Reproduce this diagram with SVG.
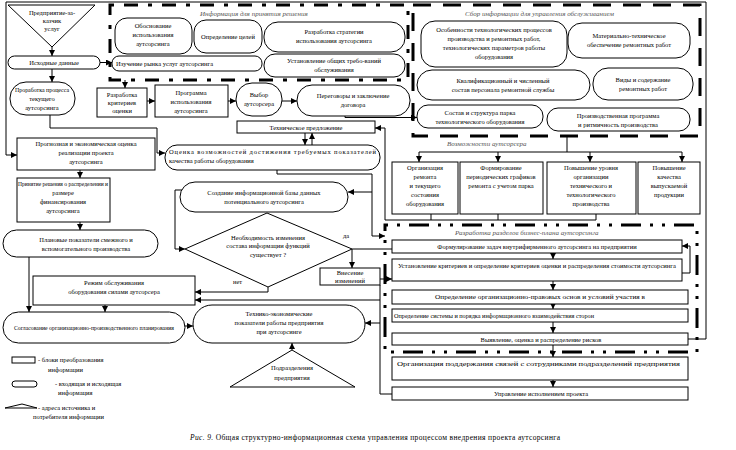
<svg xmlns="http://www.w3.org/2000/svg" width="736" height="450" viewBox="0 0 736 450">
<style>
.b{fill:#fff;stroke:#000;stroke-width:1}
.ln{fill:none;stroke:#000;stroke-width:1}
.ar{fill:none;stroke:#000;stroke-width:1;marker-end:url(#a)}
.d1{fill:none;stroke:#000;stroke-width:3;stroke-dasharray:4 10 14 10}
.d2{fill:none;stroke:#000;stroke-width:3;stroke-dasharray:18 12}
.d3{fill:none;stroke:#000;stroke-width:3;stroke-dasharray:3 9 3 9 20 9}
text{font-family:"Liberation Serif","Times New Roman",serif;font-size:6.5px;fill:#000}
.c{text-anchor:middle}
.lb{font-style:italic;fill:#555;font-size:7px}
.cap{font-size:7.5px}
</style>
<defs>
<marker id="a" viewBox="0 0 10 10" refX="10" refY="5" markerWidth="6" markerHeight="6" markerUnits="userSpaceOnUse" orient="auto"><path d="M0,0 L10,5 L0,10 z" fill="#000"/></marker>
</defs>

<g id="frames">
<rect class="d1" x="110" y="5" width="298" height="75"/>
<text class="lb" x="200" y="16">Информация для принятия решения</text>
<rect class="d2" x="413" y="5" width="287" height="131"/>
<text class="lb" x="465" y="16">Сбор информации для управления обслуживанием</text>
<text class="lb" x="447" y="146">Возможности аутсорсера</text>
<rect class="d3" x="385" y="225" width="312" height="127"/>
<text class="lb" x="455" y="235">Разработка разделов бизнес-плана аутсорсинга</text>
</g>

<g id="connectors">
<path class="ar" d="M52,47 V56"/>
<path class="ar" d="M100,62.5 H112"/>
<path class="ar" d="M52,69 V82"/>
<path class="ar" d="M125,80 V88"/>
<path class="ar" d="M147,101 H155"/>
<path class="ar" d="M228,101 H236"/>
<path class="ar" d="M282,101 H297"/>
<path class="ar" d="M345,116 V117.5 H417"/>
<path class="ar" d="M305,133 V145"/>
<path class="ar" d="M312,145 V133"/>
<path class="ar" d="M50,115 V128 H157 V153 H165"/>
<path class="ar" d="M688,339 H706 V2 H6 V155 H17"/>
<path class="ar" d="M80,170 V178"/>
<path class="ar" d="M80,222 V230"/>
<path class="ar" d="M29,257 V312"/>
<path class="ar" d="M105,305 V312"/>
<path class="ar" d="M185,326 H193"/>
<path class="ar" d="M292,350 V343"/>
<path class="ar" d="M277,170 V174 H372 V236 H385"/>
<path class="ar" d="M372,192 H348"/>
<path class="ar" d="M182,190 H175 V249 H185"/>
<path class="ar" d="M352,249 V268"/>
<path class="ln" d="M352,249 H392"/>
<path class="ar" d="M268,287 V292 H195"/>
<path class="ar" d="M380,279 H392"/>
<path class="ln" d="M380,285 V394 H392"/>
<path class="ar" d="M380,300 H195"/>
<path class="ar" d="M380,323 H365"/>
<path class="ln" d="M567,136 V152 M419,152 H682"/>
<path class="ar" d="M419,152 V162"/>
<path class="ar" d="M498,152 V162"/>
<path class="ar" d="M590,152 V162"/>
<path class="ar" d="M682,152 V162"/>
<path class="ln" d="M431,214 V220 M498,214 V220"/>
<path class="ar" d="M596,214 V220 H385 V128 H375"/>
<path class="ar" d="M553,253 V259"/>
<path class="ar" d="M682,273 H690 V246 H682"/>
<path class="ar" d="M553,281 V290"/>
<path class="ar" d="M553,304 V309"/>
<path class="ar" d="M553,322 V333"/>
<path class="ar" d="M553,345 V357"/>
<path class="ar" d="M553,380 V387"/>
</g>

<g id="n_client"><polygon class="b" points="8,5 95,5 52,47"/>
<text class="c" x="52" y="15">Предприятие-за-</text><text class="c" x="52" y="23">казчик</text><text class="c" x="52" y="31">услуг</text></g>
<g id="n_input"><rect class="b" x="8" y="56" width="92" height="13" rx="6.5"/><text class="c" x="54" y="65">Исходные данные</text></g>
<g id="n_reason"><rect class="b" x="115" y="18" width="77" height="36" rx="12"/>
<text class="c" x="153" y="28">Обоснование</text><text class="c" x="153" y="37">использования</text><text class="c" x="153" y="46">аутсорсинга</text></g>
<g id="n_goals"><rect class="b" x="194" y="20" width="68" height="33" rx="12"/><text class="c" x="228" y="39">Определение целей</text></g>
<g id="n_strategy"><rect class="b" x="264" y="22" width="141" height="30" rx="14"/>
<text class="c" x="334" y="34">Разработка стратегии</text><text class="c" x="334" y="43">использования аутсорсинга</text></g>
<g id="n_market"><rect class="b" x="112" y="56" width="150" height="15" rx="7"/><text x="116" y="66">Изучение рынка услуг аутсорсинга</text></g>
<g id="n_reqs"><rect class="b" x="264" y="54" width="141" height="23" rx="11"/>
<text class="c" x="334" y="63">Установление общих требо-ваний</text><text class="c" x="334" y="72">обслуживания</text></g>

<g id="n_pror"><rect class="b" x="10" y="82" width="65" height="33" rx="16"/>
<text class="c" x="42" y="92" textLength="54" lengthAdjust="spacingAndGlyphs">Проработка процесса</text><text class="c" x="42" y="101">текущего</text><text class="c" x="42" y="110">аутсорсинга</text></g>
<g id="n_criteria"><rect class="b" x="97" y="88" width="50" height="29"/>
<text class="c" x="122" y="97">Разработка</text><text class="c" x="122" y="105">критериев</text><text class="c" x="122" y="113">оценки</text></g>
<g id="n_program"><rect class="b" x="155" y="85" width="73" height="32"/>
<text class="c" x="191" y="95">Программа</text><text class="c" x="191" y="104">использования</text><text class="c" x="191" y="113">аутсорсинга</text></g>
<g id="n_choice"><rect class="b" x="236" y="83" width="46" height="33" rx="16"/>
<text class="c" x="259" y="97">Выбор</text><text class="c" x="259" y="106">аутсорсера</text></g>
<g id="n_negot"><rect class="b" x="297" y="85" width="113" height="31" rx="15"/>
<text class="c" x="353" y="98">Переговоры и заключение</text><text class="c" x="353" y="107">договора</text></g>
<g id="n_tech"><rect class="b" x="237" y="121" width="138" height="12"/><text class="c" x="306" y="130">Техническое предложение</text></g>

<g id="n_s1"><rect class="b" x="421" y="21" width="146" height="46" rx="14"/>
<text class="c" x="494" y="32">Особенности технологических процессов</text><text class="c" x="494" y="41">производства и ремонтных работ,</text><text class="c" x="494" y="50">технологических параметров работы</text><text class="c" x="494" y="59">оборудования</text></g>
<g id="n_s2"><rect class="b" x="568" y="23" width="122" height="35" rx="14"/>
<text class="c" x="629" y="38">Материально-техническое</text><text class="c" x="629" y="47">обеспечение ремонтных работ</text></g>
<g id="n_s3"><rect class="b" x="417" y="70" width="173" height="30" rx="15"/>
<text class="c" x="503" y="83">Квалификационный и численный</text><text class="c" x="503" y="92">состав персонала ремонтной службы</text></g>
<g id="n_s4"><rect class="b" x="593" y="68" width="100" height="32" rx="15"/>
<text class="c" x="643" y="82">Виды и содержание</text><text class="c" x="643" y="91">ремонтных работ</text></g>
<g id="n_s5"><rect class="b" x="417" y="105" width="126" height="23" rx="11"/>
<text class="c" x="480" y="115">Состав и структура парка</text><text class="c" x="480" y="124">технологического оборудования</text></g>
<g id="n_s6"><rect class="b" x="547" y="108" width="143" height="23" rx="11"/>
<text class="c" x="618" y="118">Производственная программа</text><text class="c" x="618" y="127">и ритмичность производства</text></g>

<g id="n_v1"><rect class="b" x="392" y="162" width="66" height="52"/>
<text class="c" x="425" y="170">Организация</text><text class="c" x="425" y="179">ремонта</text><text class="c" x="425" y="188">и текущего</text><text class="c" x="425" y="197">состояния</text><text class="c" x="425" y="206">оборудования</text></g>
<g id="n_v2"><rect class="b" x="460" y="162" width="83" height="52"/>
<text class="c" x="501" y="170">Формирование</text><text class="c" x="501" y="179">периодических графиков</text><text class="c" x="501" y="188">ремонта с учетом парка</text></g>
<g id="n_v3"><rect class="b" x="547" y="162" width="89" height="52"/>
<text class="c" x="591" y="170">Повышение уровня</text><text class="c" x="591" y="179">организации</text><text class="c" x="591" y="188">технического и</text><text class="c" x="591" y="197">технологического</text><text class="c" x="591" y="206">производства</text></g>
<g id="n_v4"><rect class="b" x="638" y="162" width="62" height="52"/>
<text class="c" x="669" y="170">Повышение</text><text class="c" x="669" y="179">качества</text><text class="c" x="669" y="188">выпускаемой</text><text class="c" x="669" y="197">продукции</text></g>

<g id="n_forecast"><rect class="b" x="17" y="138" width="138" height="32"/>
<text class="c" x="86" y="146">Прогнозная и экономическая оценка</text><text class="c" x="86" y="155">реализации проекта</text><text class="c" x="86" y="164">аутсорсинга</text></g>
<g id="n_assess"><rect class="b" x="165" y="145" width="215" height="25" rx="12"/>
<text x="169" y="154" textLength="207" lengthAdjust="spacing">Оценка возможностей достижения требуемых показателей</text><text x="169" y="163">качества работы оборудования</text></g>
<g id="n_decision"><rect class="b" x="17" y="178" width="93" height="44"/>
<text class="c" x="63" y="186" textLength="90" lengthAdjust="spacingAndGlyphs">Принятие решения о распределении и</text><text class="c" x="63" y="195">размере</text><text class="c" x="63" y="204">финансирования</text><text class="c" x="63" y="213">аутсорсинга</text></g>
<g id="n_create"><rect class="b" x="180" y="182" width="168" height="30" rx="15"/>
<text class="c" x="264" y="195">Создание информационной базы данных</text><text class="c" x="264" y="204">потенциального аутсорсинга</text></g>
<g id="n_diamond"><polygon class="b" points="185,249 267,213 352,249 268,287"/>
<text class="c" x="268" y="240">Необходимость изменения</text><text class="c" x="268" y="248">состава информации функций</text><text class="c" x="268" y="257">существует ?</text></g>
<text x="343" y="238">да</text>
<text x="233" y="284">нет</text>
<g id="n_change"><rect class="b" x="320" y="268" width="60" height="17"/>
<text class="c" x="350" y="275">Внесение</text><text class="c" x="350" y="283">изменений</text></g>
<g id="n_plans"><rect class="b" x="3" y="230" width="155" height="27" rx="13.5"/>
<text class="c" x="86" y="242">Плановые показатели смежного и</text><text class="c" x="86" y="251">вспомогательного производства</text></g>
<g id="n_mode"><rect class="b" x="33" y="276" width="162" height="29"/>
<text class="c" x="114" y="285">Режим обслуживания</text><text class="c" x="114" y="294">оборудования силами аутсорсера</text></g>
<g id="n_agree"><rect class="b" x="3" y="312" width="182" height="31" rx="15.5"/>
<text class="c" x="94" y="330" textLength="160" lengthAdjust="spacingAndGlyphs">Согласование организационно-производственного планирования</text></g>
<g id="n_teco"><rect class="b" x="193" y="305" width="172" height="38" rx="19"/>
<text class="c" x="279" y="316">Технико-экономические</text><text class="c" x="279" y="325">показатели работы предприятия</text><text class="c" x="279" y="334">при аутсорсинге</text></g>
<g id="n_subdiv"><polygon class="b" points="292,350 230,387 355,387"/>
<text class="c" x="292" y="370">Подразделения</text><text class="c" x="292" y="380">предприятия</text></g>

<g id="n_b1"><rect class="b" x="392" y="240" width="290" height="13"/><text class="c" x="537" y="249">Формулирование задач внутрифирменного аутсорсинга на предприятии</text></g>
<g id="n_b2"><rect class="b" x="392" y="259" width="290" height="22"/><text x="398" y="268" textLength="278" lengthAdjust="spacingAndGlyphs">Установление критериев и определение критериев оценки и распределения стоимости аутсорсинга</text></g>
<g id="n_b3"><rect class="b" x="392" y="290" width="296" height="14"/><text x="435" y="299" textLength="210" lengthAdjust="spacingAndGlyphs">Определение организационно-правовых основ и условий участия в</text></g>
<g id="n_b4"><rect class="b" x="392" y="309" width="296" height="13"/><text x="394" y="318" textLength="200" lengthAdjust="spacingAndGlyphs">Определение системы и порядка информационного взаимодействия сторон</text></g>
<g id="n_b5"><rect class="b" x="392" y="333" width="296" height="12"/><text class="c" x="541" y="342">Выявление, оценка и распределение рисков</text></g>
<g id="n_b6"><rect class="b" x="392" y="357" width="296" height="23"/><text x="397" y="366" textLength="283" lengthAdjust="spacingAndGlyphs">Организация поддержания связей с сотрудниками подразделений предприятия</text></g>
<g id="n_b7"><rect class="b" x="392" y="387" width="296" height="13"/><text class="c" x="541" y="396">Управление исполнением проекта</text></g>

<g id="legend">
<rect class="b" x="12" y="357" width="23" height="6"/>
<text x="38" y="362">- блоки преобразования</text><text x="48" y="372">информации</text>
<rect class="b" x="12" y="381" width="25" height="6" rx="3"/>
<text x="55" y="386">- входящая и исходящая</text><text x="58" y="395">информация</text>
<polygon class="b" points="5,408 22,404 37,408"/>
<text x="38" y="410">- адреса источника и</text><text x="33" y="419">потребителя информации</text>
</g>
<text class="cap" x="190" y="440" textLength="370" lengthAdjust="spacing"><tspan font-style="italic">Рис. 9.</tspan> Общая структурно-информационная схема управления процессом внедрения проекта аутсорсинга</text>
</svg>
